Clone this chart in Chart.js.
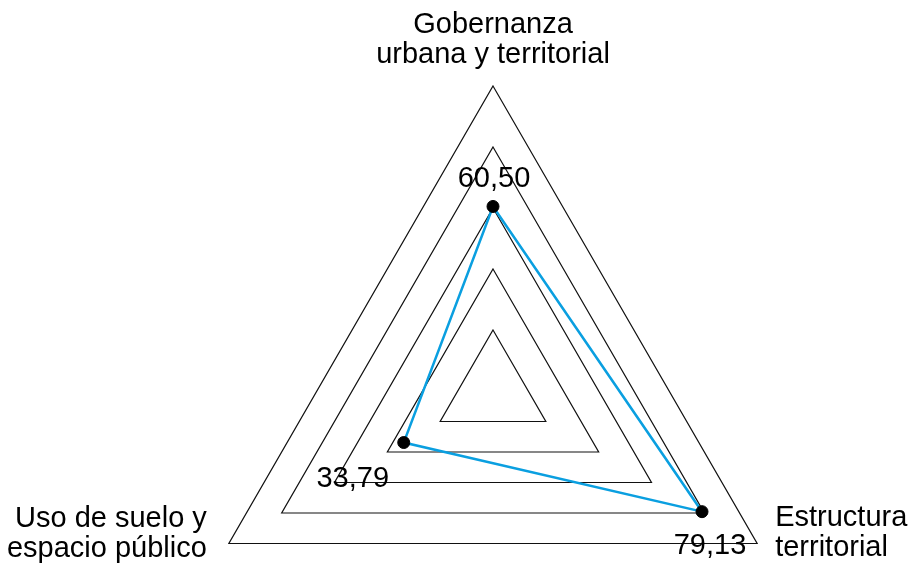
<!DOCTYPE html>
<html>
<head>
<meta charset="utf-8">
<script src="https://cdn.jsdelivr.net/npm/chart.js@4"></script>
<style>
  html, body { margin: 0; padding: 0; background: #fff; overflow: hidden; }
  #wrap { width: 909px; height: 566px; overflow: hidden; position: relative; }
  #grafico { position: absolute; left: 0; top: 0; }
</style>
</head>
<body>
<div id="wrap"><canvas id="grafico" width="909" height="780"></canvas></div>
<script>
  const categorias = [
    ["Gobernanza", "urbana y territorial"],
    ["Estructura", "territorial"],
    ["Uso de suelo y", "espacio público"]
  ];
  const valores = [60.50, 79.13, 33.79];
  const etiquetasValores = ["60,50", "79,13", "33,79"];

  const fuente = '"Liberation Sans", Arial, Helvetica, sans-serif';

  // etiquetas de los ejes y de los valores, dibujadas a mano
  const pluginEtiquetas = {
    id: 'etiquetas',
    afterDraw(chart) {
      const ctx = chart.ctx;
      const escala = chart.scales.r;
      const R = escala.drawingArea;
      ctx.save();
      ctx.fillStyle = '#000';
      ctx.font = '29px ' + fuente;
      ctx.textBaseline = 'alphabetic';

      // ejes
      const ajustes = [
        { align: 'center', dx: 0, dy: -53 },
        { align: 'left', dx: 18, dy: -18 },
        { align: 'right', dx: -22, dy: -17 }
      ];
      categorias.forEach((lineas, i) => {
        const p = escala.getPointPosition(i, R);
        const a = ajustes[i];
        ctx.textAlign = a.align;
        lineas.forEach((txt, j) => {
          ctx.fillText(txt, p.x + a.dx, p.y + a.dy + j * 30);
        });
      });

      // valores
      const desp = [
        { dx: 1, dy: -19 },
        { dx: 8, dy: 42 },
        { dx: -51, dy: 44 }
      ];
      ctx.textAlign = 'center';
      const meta = chart.getDatasetMeta(0);
      meta.data.forEach((pt, i) => {
        ctx.fillText(etiquetasValores[i], pt.x + desp[i].dx, pt.y + desp[i].dy);
      });
      ctx.restore();
    }
  };

  new Chart(document.getElementById('grafico'), {
    type: 'radar',
    data: {
      labels: categorias,
      datasets: [{
        data: valores,
        borderColor: '#0a9fe0',
        borderWidth: 2.5,
        backgroundColor: 'rgba(0,0,0,0)',
        fill: false,
        pointBackgroundColor: '#000',
        pointBorderColor: '#000',
        pointRadius: 6,
        pointBorderWidth: 1,
        tension: 0
      }]
    },
    options: {
      responsive: false,
      animation: false,
      layout: { padding: { left: 188, right: 110, top: 86, bottom: 83 } },
      plugins: {
        legend: { display: false },
        tooltip: { enabled: false }
      },
      scales: {
        r: {
          min: 0,
          max: 100,
          ticks: { stepSize: 20, display: false },
          angleLines: { display: false },
          grid: { color: '#111', lineWidth: 1.2 },
          pointLabels: { display: false }
        }
      }
    },
    plugins: [pluginEtiquetas]
  });
</script>
</body>
</html>
